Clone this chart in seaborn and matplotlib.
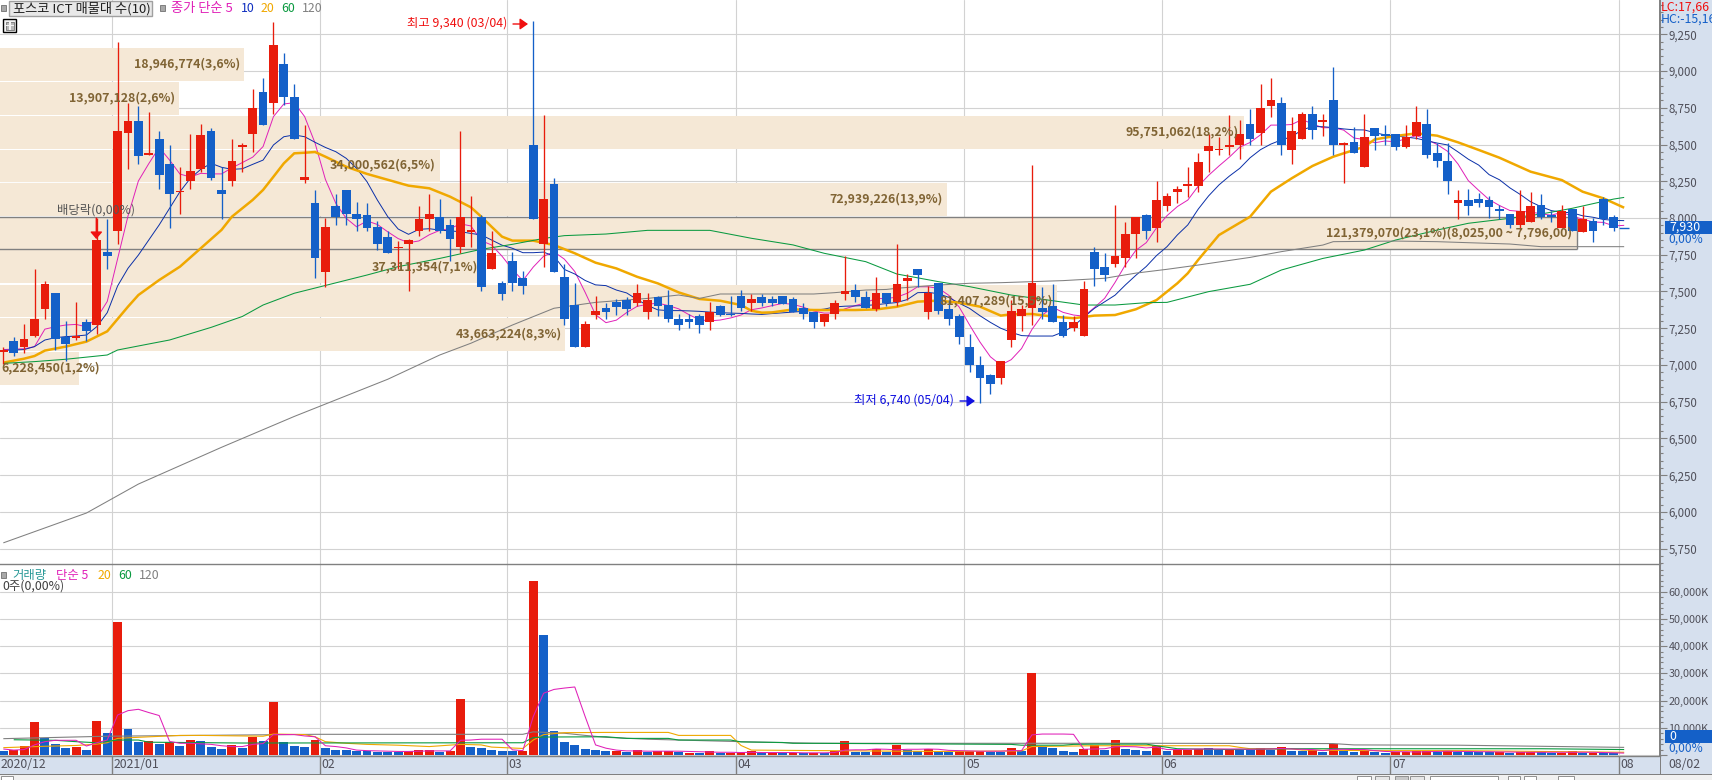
import matplotlib
matplotlib.use("Agg")
import matplotlib.pyplot as plt
from matplotlib.patches import Rectangle
import numpy as np
import seaborn as sns

# 일봉 시가/고가/저가/종가
open_px = [7090,7160,7120,7200,7380,7490,7190,7185,7290,7270,
           7770,7910,8580,8660,8430,8540,8370,8180,8250,8330,
           8590,8190,8250,8480,8570,8860,8780,9050,8820,8260,
           8100,7630,8080,8190,8030,8020,7940,7870,7795,7820,
           7910,7990,8010,7950,7800,7905,8010,7650,7560,7710,
           7590,8500,7820,8230,7600,7410,7120,7340,7390,7430,
           7440,7420,7360,7460,7410,7310,7310,7330,7290,7400,
           7350,7470,7420,7460,7450,7470,7450,7390,7360,7290,
           7350,7480,7510,7460,7380,7490,7430,7570,7650,7360,
           7560,7380,7330,7120,7000,6930,6910,7170,7330,7390,
           7390,7400,7290,7250,7200,7770,7670,7690,7730,7890,
           8020,7930,8080,8180,8220,8220,8455,8460,8480,8500,
           8640,8580,8760,8780,8460,8540,8710,8650,8800,8500,
           8520,8350,8610,8570,8570,8480,8560,8640,8440,8390,
           8100,8120,8130,8120,8060,8030,7950,7970,8090,8020,
           7930,8060,7905,7980,8130,8010,7930]
high_px = [7120,7190,7280,7650,7570,7490,7300,7430,7310,8000,
           7990,9200,8780,8760,8720,8590,8500,8350,8570,8640,
           8610,8350,8540,8510,8880,8950,9330,9120,8910,8630,
           8190,8000,8160,8190,8110,8100,7980,7910,7845,7860,
           8080,8160,8130,7990,8590,8150,8020,7910,7570,7770,
           7640,9340,8700,8270,7690,7560,7300,7470,7420,7450,
           7460,7550,7490,7470,7510,7350,7350,7350,7430,7410,
           7470,7510,7480,7480,7470,7470,7460,7420,7360,7350,
           7440,7740,7550,7500,7600,7490,7820,7620,7650,7540,
           7560,7440,7350,7210,7060,6940,7030,7440,7410,8360,
           7530,7550,7340,7330,7570,7800,7760,8090,7970,8010,
           8030,8250,8170,8220,8350,8440,8570,8550,8700,8670,
           8740,8910,8950,8820,8690,8720,8760,8710,9030,8520,
           8620,8710,8610,8630,8570,8630,8760,8740,8510,8510,
           8190,8200,8170,8150,8090,8030,8190,8180,8160,8050,
           8090,8060,8080,8000,8140,8020,7930]
low_px = [7010,7060,7080,7190,7310,7100,7030,7170,7160,7210,
          7650,7820,8330,8370,8430,8200,7930,8030,8200,8310,
          8260,7990,8220,8310,8450,8630,8710,8770,8540,8240,
          7590,7530,7950,7950,7910,7910,7780,7760,7650,7500,
          7880,7910,7900,7710,7760,7800,7500,7650,7440,7500,
          7480,7990,7670,7630,7270,7120,7120,7310,7310,7340,
          7340,7400,7310,7330,7290,7240,7250,7220,7240,7330,
          7330,7370,7370,7400,7400,7415,7360,7310,7250,7265,
          7310,7440,7430,7390,7370,7400,7400,7440,7530,7310,
          7350,7270,7140,6950,6740,6800,6870,7120,7230,7270,
          7310,7290,7190,7230,7200,7540,7570,7670,7670,7730,
          7860,7840,8050,8100,8140,8180,8310,8430,8430,8400,
          8500,8500,8690,8430,8370,8540,8540,8560,8430,8240,
          8440,8350,8460,8500,8460,8475,8540,8410,8350,8160,
          7990,8020,8075,8000,7990,7930,7920,7970,7990,7970,
          7930,7910,7905,7840,7950,7910,7930]
close_px = [7100,7080,7180,7310,7550,7180,7140,7200,7230,7850,
            7740,8590,8660,8420,8440,8290,8160,8185,8320,8565,
            8270,8160,8390,8500,8750,8630,9180,8820,8540,8280,
            7730,7940,8010,8030,7990,7930,7820,7760,7800,7850,
            7990,8030,7910,7860,8010,7920,7530,7760,7480,7560,
            7540,7990,8130,7630,7310,7120,7280,7370,7360,7395,
            7380,7490,7440,7400,7310,7270,7290,7270,7360,7340,
            7340,7390,7450,7420,7420,7415,7360,7350,7290,7350,
            7420,7500,7460,7390,7490,7420,7550,7590,7610,7490,
            7370,7310,7190,7000,6910,6870,7030,7370,7380,7560,
            7360,7290,7200,7290,7520,7650,7610,7740,7890,8010,
            7910,8120,8150,8200,8230,8380,8490,8470,8500,8570,
            8540,8750,8800,8500,8590,8710,8600,8670,8500,8510,
            8440,8550,8560,8560,8480,8550,8650,8430,8390,8250,
            8120,8080,8100,8075,8050,7950,8050,8080,8010,8005,
            8050,7910,7990,7910,7990,7930,7930]

# 종가 이동평균
ma5_val = [7105,7108,7110,7125,7244,7260,7272,7276,7260,7320,
           7432,7722,8014,8252,8370,8480,8394,8299,8279,8304,
           8300,8300,8341,8377,8414,8486,8690,8776,8784,8690,
           8510,8262,8100,7998,7940,7980,7956,7906,7860,7832,
           7844,7886,7916,7928,7960,7946,7846,7816,7740,7650,
           7574,7666,7740,7770,7720,7636,7494,7342,7288,7305,
           7357,7399,7413,7421,7404,7382,7342,7308,7300,7306,
           7320,7340,7376,7388,7404,7419,7413,7393,7367,7353,
           7354,7382,7404,7424,7452,7452,7462,7488,7532,7532,
           7522,7474,7394,7272,7156,7056,7000,7036,7112,7242,
           7340,7392,7358,7340,7332,7390,7454,7562,7682,7780,
           7832,7934,8016,8078,8122,8216,8290,8354,8414,8482,
           8514,8566,8632,8632,8636,8670,8640,8614,8614,8598,
           8544,8534,8512,8524,8518,8540,8560,8534,8500,8454,
           8368,8254,8188,8125,8085,8051,8045,8041,8028,8019,
           8039,8011,7993,7973,7970,7946,7950]
ma10_val = [7100,7102,7105,7125,7170,7186,7193,7197,7204,7261,
            7356,7538,7658,7748,7851,7953,8066,8179,8270,8331,
            8372,8345,8331,8335,8365,8394,8497,8553,8565,8553,
            8515,8480,8451,8406,8338,8247,8122,8009,7925,7889,
            7923,7927,7918,7912,7907,7895,7885,7850,7815,7794,
            7764,7764,7768,7740,7650,7619,7575,7545,7540,7510,
            7490,7445,7405,7375,7370,7370,7368,7365,7360,7356,
            7353,7351,7347,7344,7350,7355,7360,7365,7372,7380,
            7395,7400,7402,7405,7410,7418,7425,7445,7492,7494,
            7485,7460,7420,7385,7335,7290,7250,7222,7200,7197,
            7197,7197,7225,7265,7325,7385,7430,7475,7545,7610,
            7670,7745,7805,7885,7953,8060,8150,8225,8285,8338,
            8410,8465,8503,8531,8553,8600,8622,8621,8615,8606,
            8600,8599,8580,8565,8558,8550,8542,8525,8510,8497,
            8450,8400,8360,8295,8260,8205,8160,8110,8077,8050,
            8040,8035,8015,8005,7990,7984,7982]
ma20_idx = [0,2,3,4,6,8,10,12,13,15,17,19,21,22,24,25,26,27,28,29,30,31,33,35,37,39,41,43,45,46,47,48,49,51,53,55,57,59,61,63,65,67,69,71,72,73,74,76,78,80,82,84,85,86,88,90,92,94,96,97,99,101,103,105,107,109,111,113,114,115,117,120,122,124,126,128,129,131,132,134,136,138,140,142,144,147,150,152,154,156]
ma20_val = [7016,7043,7061,7098,7125,7159,7229,7397,7476,7578,7669,7794,7919,8009,8123,8191,8281,8372,8440,8444,8449,8417,8349,8300,8260,8220,8202,8145,8073,8009,7940,7873,7846,7846,7816,7760,7696,7657,7600,7555,7494,7449,7437,7408,7369,7356,7358,7378,7374,7374,7374,7378,7387,7396,7431,7438,7424,7397,7336,7345,7347,7329,7318,7336,7340,7379,7442,7556,7624,7715,7884,8009,8179,8270,8354,8417,8440,8485,8535,8558,8576,8560,8515,8463,8410,8315,8258,8179,8134,8070]
ma60_idx = [0,3,6,10,11,14,16,20,23,25,28,35,38,42,46,49,52,54,58,62,65,68,72,76,79,83,86,90,93,97,100,104,107,110,112,116,120,123,127,131,134,138,141,145,148,151,155,156]
ma60_val = [7011,7023,7039,7068,7102,7143,7170,7256,7330,7408,7488,7612,7669,7725,7787,7821,7861,7880,7891,7916,7916,7916,7862,7817,7760,7703,7619,7567,7533,7476,7447,7408,7408,7424,7426,7499,7549,7646,7725,7782,7850,7918,7964,7998,8027,8066,8129,8140]
ma120_idx = [0,8,13,21,28,37,42,45,49,53,57,59,62,65,67,69,74,78,80,83,85,86,90,93,96,99,102,106,109,112,115,120,123,127,128,134,138,141,145,148,156]
ma120_val = [5790,5993,6190,6440,6650,6903,7068,7148,7272,7386,7426,7437,7453,7476,7453,7483,7483,7483,7492,7510,7514,7522,7544,7556,7560,7567,7574,7590,7625,7651,7680,7732,7771,7816,7839,7843,7839,7832,7823,7805,7805]

# 거래량 (천주) 와 막대 색
volume_k = [1.5,1.7,3.3,12.1,6.1,4.0,2.6,2.9,1.8,12.5,
            8.1,48.9,9.6,4.8,5.1,4.0,4.8,3.3,5.5,5.1,
            2.9,2.2,3.6,2.6,6.6,5.1,19.5,4.8,3.3,2.9,
            5.5,2.6,1.8,1.8,1.5,1.5,1.2,1.2,1.2,1.5,
            1.8,1.85,1.2,1.5,20.6,2.9,2.6,1.8,1.5,1.5,
            1.6,63.8,44.1,8.7,4.8,3.7,2.2,1.8,1.5,1.5,
            1.1,1.8,1.2,1.5,1.5,1.2,0.9,0.7,1.5,0.7,
            0.9,0.9,1.5,0.7,0.9,0.7,0.7,0.7,0.9,0.7,
            1.5,5.1,1.2,1.1,2.1,1.2,3.8,2.0,1.5,2.2,
            1.5,1.1,1.5,1.5,1.5,1.2,1.2,2.6,1.5,30.1,
            2.9,2.6,1.5,1.1,2.2,3.7,2.0,5.5,2.2,1.8,
            1.5,3.3,1.5,2.0,2.0,2.3,2.4,2.0,2.1,2.0,
            2.0,2.6,2.0,2.9,1.6,1.6,1.8,1.2,4.0,1.6,
            1.2,1.6,1.2,0.9,1.0,1.0,1.5,1.5,1.2,1.5,
            1.2,1.1,1.1,1.1,1.2,0.9,1.0,1.2,1.1,0.7,
            0.9,1.5,0.7,0.9,0.8,0.7,0.0]
volume_up = ("brrrbbbrbr" "brbbrbrbrb" "bbrbrbrbbb" "rbbbbbbbbr" "rrbrrbbbbb"
             "rrbbbbbbbr" "brbrrbrbrb" "rrrbrbrbrb" "rrbbrbrbbr" "bbrrrbbrbr"
             "bbbbrrbrbb" "brbrrrbbrb" "brbrbbrbrb" "brbbrrrrbr" "bbbbrbrrbb"
             "rrbrbbb")
vol_ma5 = [2.2,1.8,2.0,3.7,4.9,5.4,5.4,5.4,3.3,4.5,
           5.5,14.7,16.3,16.8,15.6,14.5,5.0,4.3,4.3,4.1,
           3.9,3.4,3.1,3.1,3.9,4.2,7.5,7.5,7.5,7.0,
           6.7,3.4,3.1,2.6,1.8,1.6,1.5,1.4,1.3,1.3,
           1.4,1.5,1.5,1.5,5.4,5.5,5.8,5.8,5.8,1.9,
           1.6,14.1,22.7,24.1,24.6,25.0,14.1,3.7,2.5,1.8,
           1.5,1.5,1.4,1.4,1.4,1.4,1.3,1.2,1.1,1.0,
           1.0,0.9,1.0,0.9,0.9,0.9,0.9,0.8,0.8,0.8,
           0.9,1.8,1.9,1.9,2.2,2.1,1.9,2.1,2.1,2.2,
           2.1,1.7,1.6,1.5,1.4,1.4,1.4,1.6,1.6,7.4,
           7.7,7.7,7.7,7.6,2.1,2.2,2.3,3.0,3.1,3.0,
           2.6,2.9,2.0,2.0,2.1,2.2,2.2,2.2,2.2,2.2,
           2.1,2.2,2.2,2.4,2.2,2.1,2.0,1.6,2.1,2.1,
           2.0,2.0,1.6,1.3,1.2,1.2,1.1,1.2,1.3,1.4,
           1.3,1.3,1.2,1.2,1.1,1.1,1.0,1.0,1.0,1.0,
           1.0,1.0,1.0,1.0,0.9,0.8,0.7]
vol_ma20_idx = [0,4,7,9,10,11,13,17,19,25,26,29,30,31,33,35,38,41,44,46,47,50,51,52,54,58,64,65,70,71,72,90,98,99,105,118,119,120,124,125,132,140,148,156]
vol_ma20_val = [2.7,3.2,3.5,4.0,4.5,6.1,6.5,7.2,7.2,6.9,7.7,7.5,6.7,4.9,4.3,3.9,3.6,3.1,3.9,3.7,2.9,2.4,5.5,7.5,8.2,8.3,8.3,7.2,7.2,3.5,1.8,1.3,1.5,3.1,3.4,3.4,2.8,2.3,2.3,1.8,1.6,1.6,1.3,1.0]
vol_ma60_idx = [1,5,7,9,11,13,14,23,50,51,52,58,60,64,65,70,71,75,76,78,97,98,102,103,105,110,111,113,118,124,131,148,156]
vol_ma60_val = [5.6,5.4,4.9,4.5,5.5,5.5,4.7,4.4,4.5,6.4,6.6,6.7,6.1,6.1,5.5,5.5,4.8,4.6,4.3,4.3,3.9,3.6,3.6,3.9,4.0,4.0,3.4,2.3,2.0,2.3,2.3,2.3,2.0]
vol_ma120_idx = [0,10,30,50,51,54,56,58,62,66,72,78,90,111,128,130,140,150,156]
vol_ma120_val = [6.0,6.9,7.6,7.6,8.5,8.0,7.2,6.5,5.8,5.4,4.8,4.3,4.3,4.3,4.2,3.7,3.6,3.1,2.8]

# 매물대 구간: 상단, 하단, 오른쪽 끝(봉 번호), 문구
band_top = [9159,8925,8694,8463,8240,8005,7780,7544,7322,7088]
band_bot = [8934,8701,8469,8247,8016,7787,7556,7329,7097,6864]
band_end = [23.12,16.9,119.4,42.0,90.8,151.5,46.1,101.4,54.1,7.3]
band_label = ["18,946,774(3,6%)","13,907,128(2,6%)","95,751,062(18,2%)","34,000,562(6,5%)",
              "72,939,226(13,9%)","121,379,070(23,1%)(8,025,00 ~ 7,796,00)","37,311,354(7,1%)",
              "81,407,289(15,5%)","43,663,224(8,3%)","6,228,450(1,2%)"]
band_label_x = [240,174.5,1239,435,943,1572,478,1053,562,100]
band_label_y = [64,98,132,165,199,233,267,300.7,334,368]

month_pos = [10.5,30.5,48.5,70.5,92.5,111.5,133.5,155.5]
month_text = ["2021/01","02","03","04","05","06","07","08"]
price_ticks = list(range(5750,9500,250))
vol_ticks = list(range(0,70000,10000))

W, H = 1712, 780
RED, BLUE = "#e81c0c", "#1460c8"
BROWN = "#806434"
PANEL = "#d6e0ee"
C5, C10, C20, C60, C120 = "#e020b8", "#0a2fa8", "#f0a800", "#0a9a40", "#808080"

sns.set_theme(style="white")
plt.rcParams['font.family'] = ['Noto Sans CJK KR', 'DejaVu Sans']

fig = plt.figure(figsize=(W/100, H/100), dpi=100, facecolor=PANEL)
ax = fig.add_axes([0, (H-564)/H, 1660/W, 564/H])
ax_vol = fig.add_axes([0, (H-756)/H, 1660/W, 192/H])

def px_text(x, y, s, **kw):
    kw.setdefault("va", "center")
    kw.setdefault("zorder", 20)
    return fig.text(x/W, 1-y/H, s, **kw)

def px_rect(x0, y0, x1, y1, **kw):
    kw.setdefault("zorder", 15)
    fig.add_artist(Rectangle((x0/W, 1-y1/H), (x1-x0)/W, (y1-y0)/H, transform=fig.transFigure, **kw))

def ma_line(axis, xs, ys, color, lw, z=3):
    sns.lineplot(x=xs, y=ys, ax=axis, color=color, linewidth=lw, estimator=None,
                 errorbar=None, zorder=z, solid_joinstyle="miter", solid_capstyle="butt")

idx = np.arange(len(close_px))
o, h, l, c = map(np.array, (open_px, high_px, low_px, close_px))
up = c > o
flat = c == o
candle_col = [RED if u else BLUE for u in up]

for axis in (ax, ax_vol):
    axis.set_facecolor("white")
    axis.set_axisbelow(True)
    axis.grid(True, color="#d2d2d2", linewidth=0.8)
    for name in ("left", "top", "bottom"):
        axis.spines[name].set_visible(False)
    axis.spines["right"].set_color("#808080")
    axis.spines["right"].set_linewidth(1.4)

# 매물대
for t, b, e in zip(band_top, band_bot, band_end):
    ax.add_patch(Rectangle((-1, b), e+1, t-b, facecolor="#f5e8d6", edgecolor="none", zorder=1))
ax.hlines([band_top[5], band_bot[5]], -1, band_end[5], color="#808080", linewidth=1.0, zorder=2)
ax.vlines(band_end[5], band_bot[5], band_top[5], color="#808080", linewidth=1.0, zorder=2)

# 이동평균
ma_line(ax, idx, ma5_val, C5, 0.7)
ma_line(ax, idx, ma10_val, C10, 0.7)
ma_line(ax, ma20_idx, ma20_val, C20, 1.8)
ma_line(ax, ma60_idx, ma60_val, C60, 0.75)
ma_line(ax, ma120_idx, ma120_val, C120, 0.75)

# 캔들
ax.vlines(idx, l, h, colors=candle_col, linewidth=0.95, zorder=4)
ax.bar(idx[~flat], np.abs(c-o)[~flat], bottom=np.minimum(c, o)[~flat], width=0.84,
       color=np.array(candle_col)[~flat], linewidth=0, zorder=5)
ax.hlines(c[flat], idx[flat]-0.47, idx[flat]+0.47, color=BLUE, linewidth=1.0, zorder=5)

# 거래량
vol_hue = list(volume_up)
vol_kw = dict(x=idx, y=volume_k, hue=vol_hue, palette={"r": RED, "b": BLUE}, dodge=False,
              native_scale=True, width=0.86, legend=False, saturation=1, linewidth=0, zorder=2)
sns.barplot(ax=ax_vol, **vol_kw)
ma_line(ax_vol, idx, vol_ma5, C5, 0.75, z=4)
ma_line(ax_vol, vol_ma120_idx, vol_ma120_val, C120, 0.8, z=3)
ma_line(ax_vol, vol_ma20_idx, vol_ma20_val, C20, 0.8, z=3)
ma_line(ax_vol, vol_ma60_idx, vol_ma60_val, C60, 0.8, z=3)

for axis in (ax, ax_vol):
    axis.set_xlim((0-3.33)/10.39, (1660-3.33)/10.39)
    axis.set_xticks(month_pos)
    axis.set_xlabel("")
    axis.set_ylabel("")

ax.set_ylim(8000-(564-218)*6.803, 8000+218*6.803)
ax_vol.set_ylim(-0.37, 70.2)
ax.set_yticks(price_ticks)
ax.set_yticklabels([f"{v:,}" for v in price_ticks])
ax_vol.set_yticks([v/1000 for v in vol_ticks])
ax_vol.set_yticklabels(["" if v == 0 else f"{v:,}K" for v in vol_ticks])
ax.set_yticks(np.arange(5650, 9500, 50), minor=True)
ax_vol.set_yticks(np.arange(0, 70, 2), minor=True)
ax.tick_params(axis="x", length=0, labelbottom=False)
ax_vol.tick_params(axis="x", length=13, width=1.0, color="#808080", labelbottom=False, bottom=True)
for axis, size in ((ax, 8.3), (ax_vol, 7.8)):
    axis.yaxis.tick_right()
    axis.tick_params(axis="y", which="major", right=True, length=5, width=0.8, color="#808080",
                     labelsize=size, labelcolor="#50505a", pad=1)
    axis.tick_params(axis="y", which="minor", right=True, length=2.2, width=0.8, color="#808080")
ax_vol.spines["top"].set_visible(True)
ax_vol.spines["top"].set_color("#808080")
ax_vol.spines["top"].set_linewidth(1.0)
ax_vol.spines["bottom"].set_visible(True)
ax_vol.spines["bottom"].set_color("#808080")
ax_vol.spines["bottom"].set_linewidth(1.0)

# 하단 날짜 띠
for p, s in zip(month_pos, month_text):
    ax_vol.text(p+0.15, -0.0417, s, transform=ax_vol.get_xaxis_transform(), fontsize=8.8,
                color="#50505a", va="center", ha="left")
ax_vol.text(-0.3, -0.0417, "2020/12", transform=ax_vol.get_xaxis_transform(), fontsize=8.8,
            color="#50505a", va="center", ha="left")
px_rect(1660, 756, 1661, 774, facecolor="#808080", edgecolor="none")
px_text(1668, 764, "08/02", fontsize=8.8, color="#50505a", ha="left")
px_rect(0, 774, W, H, facecolor="#f1f1f1", edgecolor="none")
px_rect(0, 773.5, W, 774.5, facecolor="#808080", edgecolor="none")
for bx0, bx1, col in [(1, 13, "#ffffff"), (1357, 1371, "#ffffff"), (1375, 1389, "#e6e6e6"),
                      (1395, 1408, "#c8c8c8"), (1410, 1424, "#e6e6e6"), (1430, 1498, "#ffffff"),
                      (1508, 1520, "#ffffff"), (1524, 1536, "#ffffff"), (1558, 1574, "#ffffff")]:
    px_rect(bx0, 775.5, bx1, 782, facecolor=col, edgecolor="#909090", linewidth=0.7, zorder=16)

# 매물대 문구
for s, x, y in zip(band_label, band_label_x, band_label_y):
    px_text(x, y, s, fontsize=8.9, color=BROWN, ha="right", fontweight="bold")

# 상단 범례
px_rect(1, 5, 6, 11, facecolor="#a8a8a8", edgecolor="#707070", linewidth=0.6)
px_rect(8.5, 1.5, 151.5, 15.5, facecolor="#e8e8e8", edgecolor="#a0a0a0", linewidth=1.0)
px_text(13, 8.5, "포스코 ICT 매물대 수(10)", fontsize=9.5, color="#202020", ha="left")
px_rect(160, 5, 165, 11, facecolor="#a8a8a8", edgecolor="#707070", linewidth=0.6)
px_text(171, 8.5, "종가 단순 5", fontsize=9.5, color=C5, ha="left")
for x, s, col in [(241, "10", "#1030c0"), (261, "20", C20), (281, "60", C60), (302, "120", C120)]:
    px_text(x, 8.5, s, fontsize=8.9, color=col, ha="left")
px_rect(3.5, 19.5, 16.5, 32, facecolor="#f4f4f4", edgecolor="black", linewidth=1.0)
px_rect(5.5, 22, 14.5, 30, facecolor="#b8b8b8", edgecolor="#606060", linewidth=0.5, zorder=16)
px_rect(9, 22, 10.5, 30, facecolor="#f4f4f4", edgecolor="none", zorder=17)
px_rect(5.5, 25, 14.5, 26.2, facecolor="#f4f4f4", edgecolor="none", zorder=17)

# 최고/최저/배당락 표시
px_text(507, 23.5, "최고 9,340 (03/04)", fontsize=8.9, color="#f01010", ha="right")
px_text(954, 400.5, "최저 6,740 (05/04)", fontsize=8.9, color="#1010e0", ha="right")
px_text(57, 210, "배당락(0,00%)", fontsize=8.9, color="#555555", ha="left")
ax.annotate("", xy=(528/1660, 1-24/564), xytext=(513/1660, 1-24/564), xycoords="axes fraction",
            arrowprops=dict(arrowstyle="-|>,head_width=0.28,head_length=0.4", color="#f01010", lw=1.0, shrinkA=0, shrinkB=0), zorder=9)
ax.annotate("", xy=(975/1660, 1-401/564), xytext=(960/1660, 1-401/564), xycoords="axes fraction",
            arrowprops=dict(arrowstyle="-|>,head_width=0.28,head_length=0.4", color="#1010e0", lw=1.0, shrinkA=0, shrinkB=0), zorder=9)
ax.annotate("", xy=(96.3/1660, 1-239/564), xytext=(96.3/1660, 1-218/564), xycoords="axes fraction",
            arrowprops=dict(arrowstyle="-|>,head_width=0.3,head_length=0.35", color="#f01010", lw=1.0, shrinkA=0, shrinkB=0), zorder=9)

# 거래량 범례
px_rect(1, 572, 6, 578, facecolor="#a8a8a8", edgecolor="#707070", linewidth=0.6)
px_text(12, 575.5, "거래량", fontsize=8.9, color="#2a9a98", ha="left")
px_text(56, 575.5, "단순 5", fontsize=8.9, color=C5, ha="left")
for x, s, col in [(98, "20", C20), (118, "60", C60), (139, "120", C120)]:
    px_text(x, 575.5, s, fontsize=8.9, color=col, ha="left")
px_text(2, 586.5, "0주(0,00%)", fontsize=8.9, color="#404040", ha="left")

# 오른쪽 현재값 표시
px_text(1661, 7, "LC:17,66", fontsize=8.9, color="#f01010", ha="left")
px_text(1661, 19, "HC:-15,16", fontsize=8.9, color="#1460c8", ha="left")
px_rect(1665, 221, W, 233.5, facecolor=BLUE, edgecolor="none")
px_text(1669, 227, "7,930", fontsize=8.9, color="white", ha="left")
px_text(1668, 239.5, "0,00%", fontsize=8.6, color="#1460c8", ha="left")
px_rect(1665, 730, W, 742.7, facecolor=BLUE, edgecolor="none")
px_text(1669, 736, "0", fontsize=8.9, color="white", ha="left")
px_text(1668, 748, "0,00%", fontsize=8.6, color="#1460c8", ha="left")

fig.savefig("out.png", dpi=100, facecolor=fig.get_facecolor())
